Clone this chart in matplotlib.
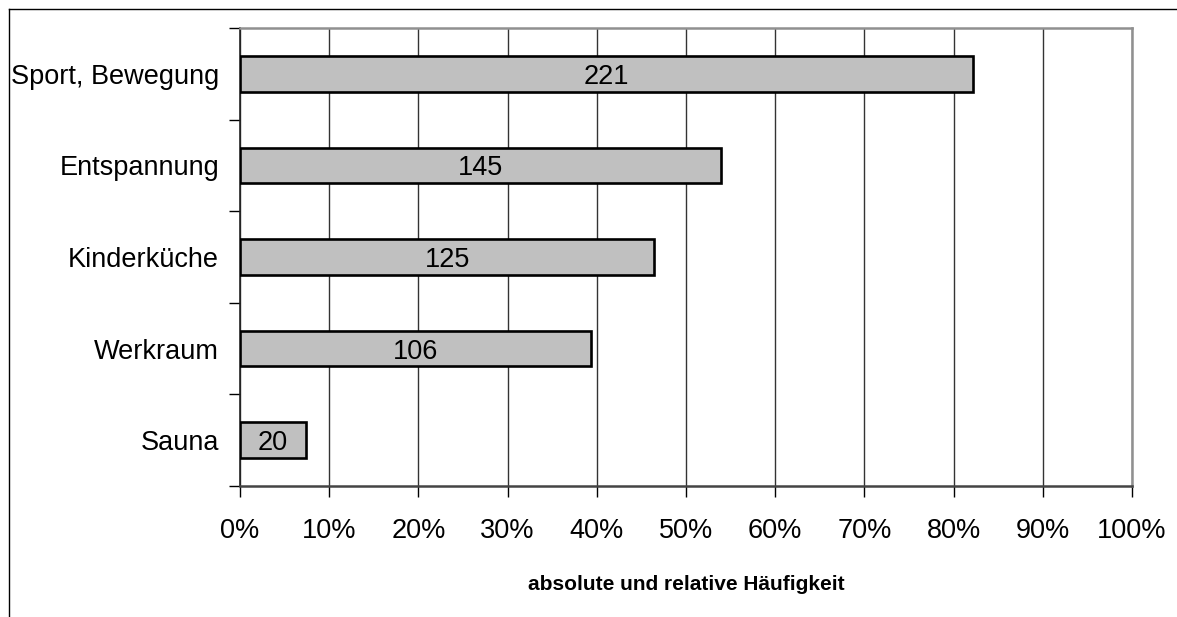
import matplotlib
matplotlib.use("Agg")
import matplotlib.pyplot as plt
from matplotlib.lines import Line2D
import numpy as np

plt.rcParams["font.family"] = ["Liberation Sans", "DejaVu Sans"]

# Survey results: number of mentions per room, n = 269 respondents
categories = ["Sport, Bewegung", "Entspannung", "Kinderküche", "Werkraum", "Sauna"]
counts = [221, 145, 125, 106, 20]
respondents = 269
xtick_values = [0, 10, 20, 30, 40, 50, 60, 70, 80, 90, 100]
xtick_labels = [f"{v}%" for v in xtick_values]
xlabel = "absolute und relative Häufigkeit"

W, H = 1177, 617
fig = plt.figure(figsize=(W / 100, H / 100), dpi=100)
fig.patch.set_facecolor("white")

# outer frame (left and top edges visible)
fig.add_artist(Line2D([8.5 / W, 8.5 / W], [0, 1 - 8.5 / H], color="black", lw=1.0))
fig.add_artist(Line2D([8.5 / W, 1], [1 - 8.5 / H, 1 - 8.5 / H], color="black", lw=1.0))

ax = fig.add_axes([240 / W, 131 / H, 892 / W, 458 / H])

percent = [c / respondents * 100 for c in counts]
n = len(categories)
ypos = np.arange(n)

ax.barh(ypos, percent, height=0.39, color="#c0c0c0", edgecolor="black",
        linewidth=1.9, zorder=3)
for y, p, c in zip(ypos, percent, counts):
    ax.text(p / 2, y, str(c), ha="center", va="center_baseline", fontsize=19.5,
            color="black", zorder=4)

ax.set_xlim(0, 100)
ax.set_ylim(n - 0.5, -0.5)

ax.set_xticks(xtick_values)
ax.set_xticklabels(xtick_labels, fontsize=19.5)
ax.tick_params(axis="x", direction="out", length=8, width=1, color="black", pad=15)

# category boundaries as major ticks, names on minor ticks
ax.set_yticks(np.arange(n + 1) - 0.5)
ax.set_yticklabels([])
ax.set_yticks(ypos, minor=True)
ax.set_yticklabels(categories, minor=True, fontsize=19.5, va="center_baseline")
ax.tick_params(axis="y", which="major", direction="out", length=8, width=1, color="black")
ax.tick_params(axis="y", which="minor", length=0, pad=15)

ax.grid(axis="x", color="#333333", linewidth=1.0, zorder=1)
ax.set_axisbelow(True)

ax.spines["left"].set_color("#222222")
ax.spines["left"].set_linewidth(1.2)
ax.spines["bottom"].set_color("#444444")
ax.spines["bottom"].set_linewidth(1.8)
ax.spines["top"].set_color("#909090")
ax.spines["top"].set_linewidth(1.8)
ax.spines["right"].set_color("#909090")
ax.spines["right"].set_linewidth(1.8)

fig.text(686 / W, 1 - 585 / H, xlabel, ha="center", va="center",
         fontsize=15, fontweight="bold")

fig.savefig("out.png", dpi=100)
